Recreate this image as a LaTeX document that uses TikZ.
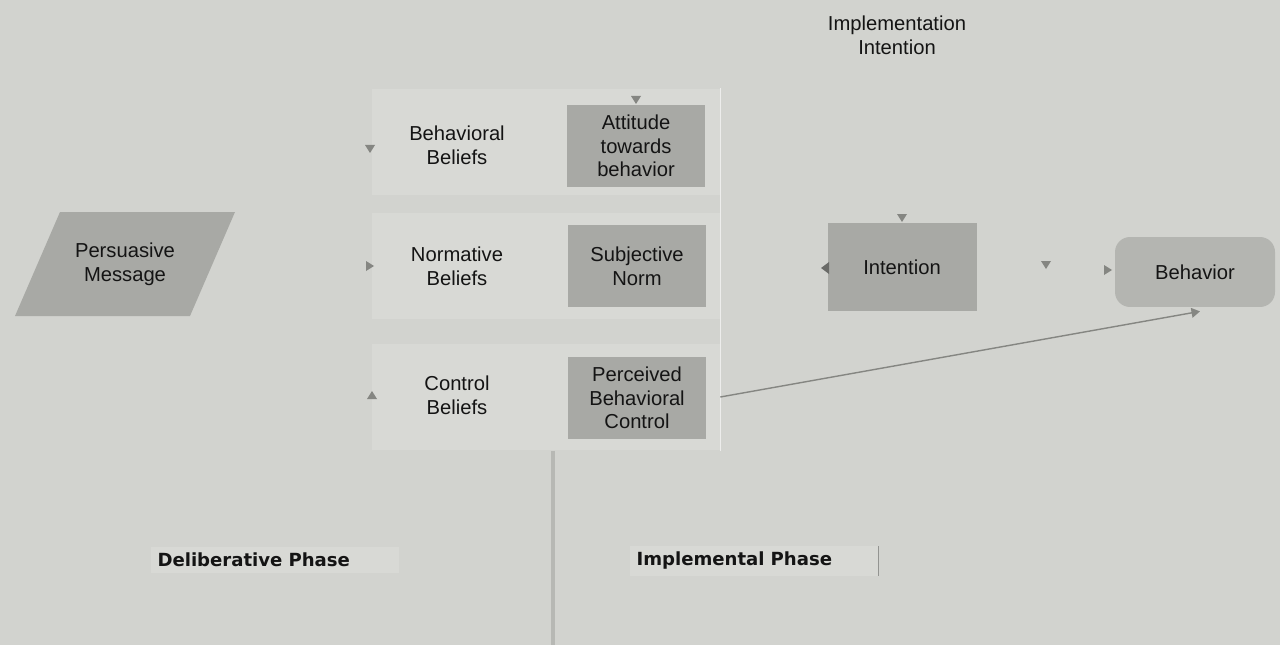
\documentclass[tikz,border=0pt]{standalone}
\usepackage{fontspec}
\setmainfont{Liberation Sans}
\newfontfamily\phasefont{DejaVu Sans}
\usepackage{tikz}
\usetikzlibrary{arrows.meta,positioning,calc}
\definecolor{paper}{HTML}{D2D3CF}
\definecolor{pane}{HTML}{D8D9D5}
\definecolor{slate}{HTML}{A8A9A5}
\definecolor{mist}{HTML}{B4B5B1}
\definecolor{tipgray}{HTML}{858682}
\definecolor{ink}{HTML}{141414}

\begin{document}
\begin{tikzpicture}[x=0.02cm,y=-0.02cm,>=Triangle,
pane/.style={fill=pane,minimum width=6.96cm,minimum height=2.14cm,inner sep=0pt},
belief/.style={text=ink,align=center,font=\fontsize{11.5}{13.5}\selectfont},
construct/.style={fill=slate,text=ink,minimum width=2.78cm,minimum height=1.66cm,align=center,font=\fontsize{11.5}{13.5}\selectfont},
phase/.style={fill=pane,text=ink,minimum width=4.96cm,minimum height=0.5cm,text width=4.7cm,align=left,font=\phasefont\bfseries\fontsize{10.3}{12}\selectfont},
stray/.style={fill=tipgray}]
\useasboundingbox (0,0) rectangle (1280,645);
\fill[paper] (0,0) rectangle (1280,645);

% left side
\fill[slate] (15,316) -- (60,212) -- (235,212) -- (190,316) -- cycle;
\node[belief] (msg) at (125,264) {Persuasive\\Message};

% belief rows
\node[pane] (row1) at (546,142) {};
\node[pane] (row2) at (546,266) {};
\node[pane] (row3) at (546,397) {};
\node[belief] (bb) at (457,145) {Behavioral\\Beliefs};
\node[belief] (nb) at (457,266) {Normative\\Beliefs};
\node[belief] (cb) at (457,395) {Control\\Beliefs};
\node[construct] (att) at (636,146) {Attitude\\towards\\behavior};
\node[construct] (sn) at (637,266) {Subjective\\Norm};
\node[construct] (pbc) at (637,398) {Perceived\\Behavioral\\Control};
\draw[white!60!paper,line width=0.6pt] (row1.north east) -- (row3.south east);

% right side
\node[belief] (ii) at (897,35) {Implementation\\Intention};
\node[construct,fill=slate,minimum width=2.98cm,minimum height=1.78cm] (int) at (902,267) {Intention};
\node[construct,fill=mist,rounded corners=0.3cm,minimum width=3.2cm,minimum height=1.4cm] (beh) at (1195,272) {Behavior};
\draw[->,tipgray,line width=0.8pt] (row3.east) -- ($(beh.south)+(5,4)$);

% stray tips
\fill[stray] (365,145) -- (375,145) -- (370,153) -- cycle;
\fill[stray] (366,261) -- (374,266) -- (366,271) -- cycle;
\fill[stray] (367,399) -- (377,399) -- (372,391) -- cycle;
\fill[stray] (631,96) -- (641,96) -- (636,104) -- cycle;
\fill[stray] (897,214) -- (907,214) -- (902,222) -- cycle;
\fill[stray] (1041,261) -- (1051,261) -- (1046,269) -- cycle;
\fill[stray] (1104,265) -- (1112,270) -- (1104,275) -- cycle;
\fill[tipgray!80!black] (829,262) -- (829,274) -- (821,268) -- cycle;

% phases
\draw[black!13!paper,line width=2.5pt] (row3.south) ++(7,0) -- ++(0,200);
\node[phase] (delib) at (275,560) {Deliberative Phase};
\node[phase] (impl) at (754,561) {Implemental Phase};
\draw[black!30!paper] (impl.north east) -- (impl.south east);
\end{tikzpicture}
\end{document}
